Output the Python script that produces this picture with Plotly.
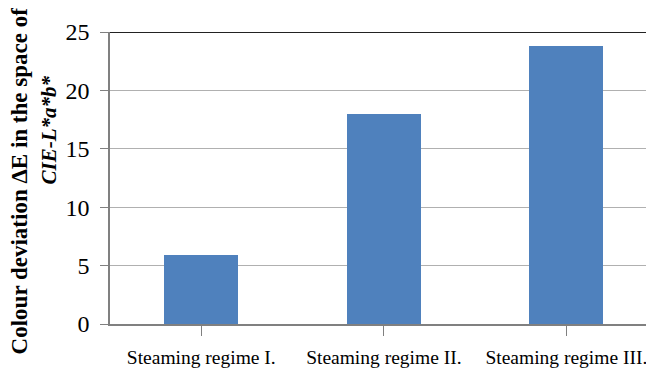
import plotly.graph_objects as go

categories = ["Steaming regime I.", "Steaming regime II.", "Steaming regime III."]
values = [5.88, 18.02, 23.76]
y_ticks = [0, 5, 10, 15, 20, 25]

W, H = 654, 369
# page body has an 8px margin, so offsets are compensated
L, R, T, B = 102, 8, 23.5, 53.3
SERIF = "Liberation Serif, Times New Roman, serif"

fig = go.Figure()
fig.add_trace(go.Bar(
    x=list(range(len(categories))), y=values,
    width=0.405, marker=dict(color="#4F81BD", line=dict(width=0)),
))

fig.update_layout(
    width=W, height=H,
    margin=dict(l=L, r=R, t=T, b=B, pad=0, autoexpand=False),
    paper_bgcolor="white", plot_bgcolor="white",
    showlegend=False,
    font=dict(family=SERIF, color="black"),
    bargap=0,
)
fig.update_xaxes(
    automargin=False,
    range=[-0.5, 2.48],
    tickmode="array", tickvals=[0, 1, 2], ticktext=categories,
    tickson="boundaries",
    ticks="outside", ticklen=10, tickcolor="#808080", tickwidth=1.3,
    showline=True, linecolor="#808080", linewidth=1.5,
    showgrid=False, zeroline=False,
    tickfont=dict(family=SERIF, size=19.5, color="black"),
    ticklabelstandoff=5,
)
fig.update_yaxes(
    automargin=False,
    range=[0, 25],
    tickmode="array", tickvals=y_ticks,
    ticks="outside", ticklen=8, tickcolor="#808080", tickwidth=1.3,
    showline=True, linecolor="#808080", linewidth=1.5,
    showgrid=True, gridcolor="#B0B0B0", gridwidth=1,
    zeroline=False,
    tickfont=dict(family=SERIF, size=24, color="black"),
    ticklabelstandoff=6,
)
fig.add_shape(type="line", xref="paper", yref="y", x0=0, x1=1, y0=25, y1=25,
              line=dict(color="#222222", width=2.2))

fig.add_annotation(
    text="<b>Colour deviation ΔE in the space of</b>",
    xref="paper", yref="paper", x=(19 - 110) / 544, y=(323.7 - 181) / 292.2,
    xanchor="center", yanchor="middle", showarrow=False, textangle=-90,
    font=dict(family=SERIF, size=23, color="black"),
)
fig.add_annotation(
    text="<b><i>CIE-L*a*b*</i></b>",
    xref="paper", yref="paper", x=(49 - 110) / 544, y=(323.7 - 130) / 292.2,
    xanchor="center", yanchor="middle", showarrow=False, textangle=-90,
    font=dict(family=SERIF, size=21, color="black"),
)

fig.write_html("out.html")
